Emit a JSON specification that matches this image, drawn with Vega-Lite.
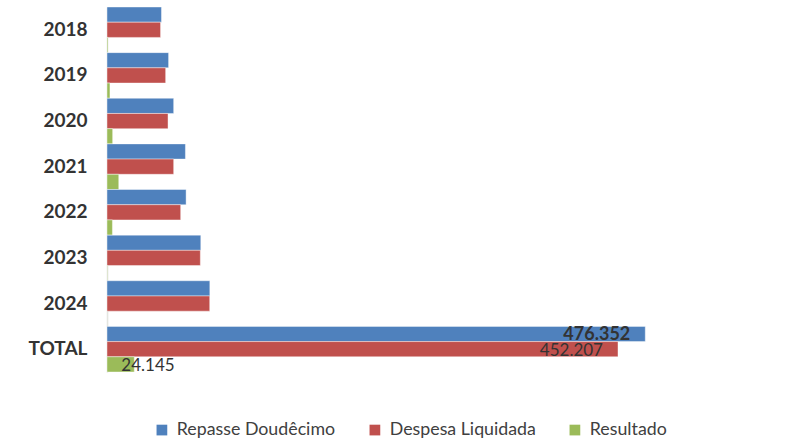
{
  "$schema": "https://vega.github.io/schema/vega-lite/v6.json",
  "width": 565,
  "height": 365,
  "autosize": {"type": "none"},
  "padding": {"left": 107, "top": 7, "right": 126, "bottom": 72},
  "background": "white",
  "config": {"view": {"stroke": null}, "font": "Lato"},
  "data": {"values": [
    {"year": "2018", "serie": "Repasse Doudêcimo", "value": 48200},
    {"year": "2018", "serie": "Despesa Liquidada", "value": 47400},
    {"year": "2018", "serie": "Resultado", "value": 800},
    {"year": "2019", "serie": "Repasse Doudêcimo", "value": 54500},
    {"year": "2019", "serie": "Despesa Liquidada", "value": 51900},
    {"year": "2019", "serie": "Resultado", "value": 2600},
    {"year": "2020", "serie": "Repasse Doudêcimo", "value": 59000},
    {"year": "2020", "serie": "Despesa Liquidada", "value": 54000},
    {"year": "2020", "serie": "Resultado", "value": 5000},
    {"year": "2021", "serie": "Repasse Doudêcimo", "value": 69400},
    {"year": "2021", "serie": "Despesa Liquidada", "value": 59000},
    {"year": "2021", "serie": "Resultado", "value": 10400},
    {"year": "2022", "serie": "Repasse Doudêcimo", "value": 70000},
    {"year": "2022", "serie": "Despesa Liquidada", "value": 65200},
    {"year": "2022", "serie": "Resultado", "value": 4800},
    {"year": "2023", "serie": "Repasse Doudêcimo", "value": 83000},
    {"year": "2023", "serie": "Despesa Liquidada", "value": 82600},
    {"year": "2023", "serie": "Resultado", "value": 400},
    {"year": "2024", "serie": "Repasse Doudêcimo", "value": 91000},
    {"year": "2024", "serie": "Despesa Liquidada", "value": 90900},
    {"year": "2024", "serie": "Resultado", "value": 100},
    {"year": "TOTAL", "serie": "Repasse Doudêcimo", "value": 476352, "label": "476.352"},
    {"year": "TOTAL", "serie": "Despesa Liquidada", "value": 452207, "label": "452.207"},
    {"year": "TOTAL", "serie": "Resultado", "value": 24145, "label": "24.145"}
  ]},
  "encoding": {
    "y": {
      "field": "year", "type": "nominal",
      "sort": ["2018", "2019", "2020", "2021", "2022", "2023", "2024", "TOTAL"],
      "scale": {"paddingInner": 0, "paddingOuter": 0},
      "axis": {
        "title": null, "ticks": false, "labelFontWeight": "bold", "labelFontSize": 19,
        "labelColor": "#333333", "labelPadding": 20, "domainColor": "#d9d9d9", "domainWidth": 1.5,
        "labelFont": "Lato", "labelBaseline": "middle"
      }
    },
    "yOffset": {
      "field": "serie", "type": "nominal",
      "sort": ["Repasse Doudêcimo", "Despesa Liquidada", "Resultado"],
      "scale": {"paddingInner": 0, "paddingOuter": 0}
    },
    "x": {
      "field": "value", "type": "quantitative",
      "scale": {"domain": [0, 500000], "nice": false},
      "axis": null
    }
  },
  "layer": [
    {
      "mark": {"type": "bar", "stroke": "white", "strokeWidth": 0.6, "strokeOpacity": 0.7},
      "encoding": {
        "color": {
          "field": "serie", "type": "nominal",
          "scale": {
            "domain": ["Repasse Doudêcimo", "Despesa Liquidada", "Resultado"],
            "range": ["#4F81BD", "#C0504D", "#9BBB59"]
          },
          "legend": {
            "title": null, "orient": "none", "direction": "horizontal",
            "legendX": 46, "legendY": 414,
            "symbolType": "square", "symbolSize": 115, "symbolStrokeWidth": 0,
            "labelFontSize": 17.8, "labelColor": "#404040", "labelFont": "Lato",
            "labelLimit": 400, "labelOffset": 6, "columnPadding": 30
          }
        }
      }
    },
    {
      "transform": [{"filter": "datum.serie === 'Repasse Doudêcimo' && datum.label"}],
      "mark": {"type": "text", "align": "right", "baseline": "middle", "dx": -15, "dy": 1.5,
               "fontSize": 18, "fontWeight": "bold", "color": "#333333", "font": "Lato"},
      "encoding": {"text": {"field": "label"}}
    },
    {
      "transform": [{"filter": "datum.serie === 'Despesa Liquidada' && datum.label"}],
      "mark": {"type": "text", "align": "right", "baseline": "middle", "dx": -15, "dy": 1.5,
               "fontSize": 17, "color": "#333333", "font": "Lato"},
      "encoding": {"text": {"field": "label"}}
    },
    {
      "transform": [{"filter": "datum.serie === 'Resultado' && datum.label"}],
      "mark": {"type": "text", "align": "left", "baseline": "middle", "dx": -13, "dy": 1.5,
               "fontSize": 17, "color": "#333333", "font": "Lato"},
      "encoding": {"text": {"field": "label"}}
    }
  ]
}
